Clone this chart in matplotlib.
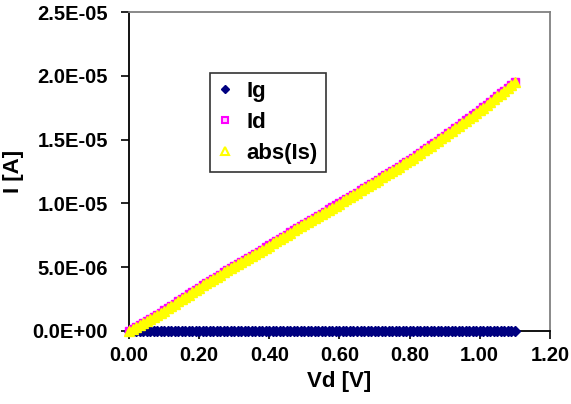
import numpy as np
import matplotlib
matplotlib.use("Agg")
import matplotlib.pyplot as plt
from matplotlib.ticker import FixedLocator, FuncFormatter
from matplotlib.lines import Line2D

# Drain-voltage sweep (V)
vd = np.round(np.arange(0, 111) * 0.01, 2)

# Drain current in microamps
id_ua = [0.00,
         0.16, 0.32, 0.48, 0.64, 0.80, 0.96, 1.12, 1.28, 1.44, 1.60,
         1.78, 1.96, 2.14, 2.32, 2.50, 2.68, 2.86, 3.04, 3.22, 3.40,
         3.57, 3.74, 3.91, 4.08, 4.25, 4.42, 4.59, 4.76, 4.93, 5.10,
         5.26, 5.42, 5.58, 5.74, 5.90, 6.06, 6.22, 6.38, 6.54, 6.70,
         6.87, 7.04, 7.21, 7.38, 7.55, 7.72, 7.89, 8.06, 8.23, 8.40,
         8.56, 8.72, 8.88, 9.04, 9.20, 9.36, 9.52, 9.68, 9.84, 10.00,
         10.17, 10.34, 10.51, 10.68, 10.85, 11.02, 11.19, 11.36, 11.53, 11.70,
         11.87, 12.04, 12.21, 12.38, 12.55, 12.72, 12.89, 13.06, 13.23, 13.40,
         13.59, 13.78, 13.97, 14.16, 14.35, 14.54, 14.73, 14.92, 15.11, 15.30,
         15.50, 15.70, 15.90, 16.10, 16.30, 16.50, 16.70, 16.90, 17.10, 17.30,
         17.52, 17.74, 17.96, 18.18, 18.40, 18.62, 18.84, 19.06, 19.28, 19.50]

# |Source current| in microamps
abs_is_ua = [0.00,
             0.15, 0.31, 0.47, 0.63, 0.79, 0.95, 1.11, 1.27, 1.43, 1.59,
             1.77, 1.95, 2.13, 2.31, 2.49, 2.67, 2.85, 3.03, 3.21, 3.39,
             3.56, 3.73, 3.90, 4.07, 4.24, 4.41, 4.58, 4.75, 4.92, 5.09,
             5.25, 5.41, 5.57, 5.73, 5.89, 6.05, 6.21, 6.37, 6.53, 6.69,
             6.86, 7.03, 7.20, 7.37, 7.54, 7.71, 7.88, 8.05, 8.22, 8.39,
             8.55, 8.71, 8.87, 9.03, 9.19, 9.35, 9.51, 9.67, 9.83, 9.99,
             10.16, 10.33, 10.50, 10.67, 10.84, 11.01, 11.18, 11.35, 11.52, 11.69,
             11.86, 12.03, 12.20, 12.37, 12.54, 12.71, 12.88, 13.05, 13.22, 13.39,
             13.58, 13.77, 13.96, 14.15, 14.34, 14.53, 14.72, 14.91, 15.10, 15.29,
             15.49, 15.69, 15.89, 16.09, 16.29, 16.49, 16.69, 16.89, 17.09, 17.29,
             17.51, 17.73, 17.95, 18.17, 18.39, 18.61, 18.83, 19.05, 19.27, 19.49]

# Gate current (essentially zero)
ig_ua = [0.0] * len(vd)

series_names = ['Ig', 'Id', 'abs(Is)']
x_ticks = [0.0, 0.2, 0.4, 0.6, 0.8, 1.0, 1.2]
y_ticks = [0.0, 5e-6, 1e-5, 1.5e-5, 2e-5, 2.5e-5]
y_tick_labels = ["0.0E+00", "5.0E-06", "1.0E-05", "1.5E-05", "2.0E-05", "2.5E-05"]

plt.rcParams['font.family'] = ['Liberation Sans', 'DejaVu Sans']
plt.rcParams['font.weight'] = 'bold'

fig = plt.figure(figsize=(5.71, 4.04), dpi=100)
ax = fig.add_axes([0.226, 0.181, 0.737, 0.789])

to_a = 1e-6
NAVY, MAG, YEL = '#000080', '#FF00FF', '#FFFF00'
ax.plot(vd, np.array(ig_ua) * to_a, linestyle='none', marker='D', ms=5.5,
        color=NAVY, mec=NAVY, clip_on=False, zorder=3)
ax.plot(vd, np.array(id_ua) * to_a, linestyle='none', marker='s', ms=6,
        mfc=MAG, mec=MAG, mew=1.0, clip_on=False, zorder=4)
ax.plot(vd, np.array(abs_is_ua) * to_a, linestyle='none', marker='^', ms=7.5,
        mfc=YEL, mec=YEL, mew=1.0, clip_on=False, zorder=5)

ax.set_xlim(0, 1.2)
ax.set_ylim(0, 2.5e-5)
ax.xaxis.set_major_locator(FixedLocator(x_ticks))
ax.xaxis.set_major_formatter(FuncFormatter(lambda v, p: f"{v:.2f}"))
ax.set_yticks(y_ticks)
ax.set_yticklabels(y_tick_labels)

ax.tick_params(axis='both', direction='out', length=6, width=1.2,
               labelsize=14.5, color='black')
ax.tick_params(axis='y', pad=9)
ax.tick_params(axis='x', pad=5)
for lab in ax.get_xticklabels() + ax.get_yticklabels():
    lab.set_fontweight('bold')

for s in ['left', 'bottom']:
    ax.spines[s].set_color('black')
    ax.spines[s].set_linewidth(1.3)
for s in ['top', 'right']:
    ax.spines[s].set_color('#808080')
    ax.spines[s].set_linewidth(1.3)

ax.set_xlabel('Vd [V]', fontsize=16, fontweight='bold', labelpad=4)
ax.set_ylabel('I [A]', fontsize=16, fontweight='bold', labelpad=6)

handles = [
    Line2D([], [], linestyle='none', marker='D', ms=4, color=NAVY, mec=NAVY),
    Line2D([], [], linestyle='none', marker='s', ms=5, mfc='#FFCCFF', mec=MAG, mew=1.5),
    Line2D([], [], linestyle='none', marker='^', ms=6, mfc='white', mec=YEL, mew=1.5),
]
leg = ax.legend(handles, series_names, loc='upper left', bbox_to_anchor=(0.192, 0.809),
                borderaxespad=0, fontsize=16, frameon=True, fancybox=False,
                edgecolor='black', handlelength=0.7, handletextpad=0.6,
                labelspacing=0.45, borderpad=0.35)
leg.get_frame().set_linewidth(1.2)
for t in leg.get_texts():
    t.set_fontweight('bold')

fig.savefig('out.png', dpi=100, facecolor='white')
